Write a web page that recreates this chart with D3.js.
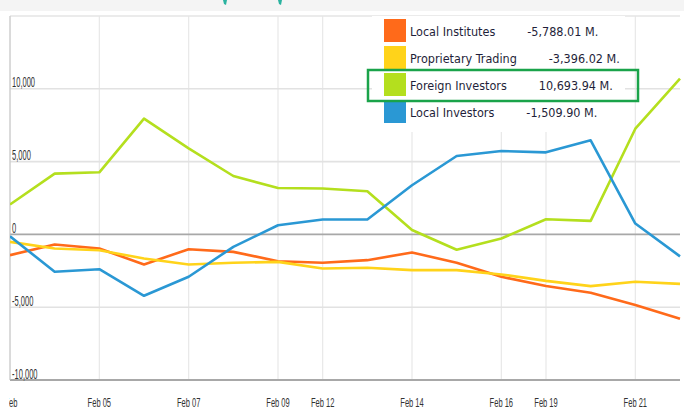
<!DOCTYPE html>
<html>
<head>
<meta charset="utf-8">
<script src="https://cdn.jsdelivr.net/npm/d3@7"></script>
<style>
  body { margin: 0; background: #fff; }
  svg { display: block; }
</style>
</head>
<body>
<div id="chart"></div>
<script>
// trading days shown on the x axis
const dates = ['Feb 01', 'Feb 02', 'Feb 05', 'Feb 06', 'Feb 07', 'Feb 08', 'Feb 09', 'Feb 12',
  'Feb 13', 'Feb 14', 'Feb 15', 'Feb 16', 'Feb 19', 'Feb 20', 'Feb 21', 'Feb 22'];

// cumulative net buy/sell, million
const localInstitutes = [-1425, -695, -970, -2065, -1015, -1200, -1840, -1950,
  -1770, -1240, -1950, -2910, -3550, -4010, -4855, -5788.01];
const proprietaryTrading = [-510, -970, -1085, -1655, -2065, -1950, -1885, -2340,
  -2295, -2455, -2455, -2750, -3190, -3550, -3255, -3396.02];
const foreignInvestors = [2050, 4175, 4265, 7946, 5910, 4011, 3190, 3150,
  2960, 300, -1050, -283, 1040, 926, 7260, 10693.94];
const localInvestors = [-130, -2570, -2390, -4215, -2910, -855, 630, 1020,
  1020, 3375, 5385, 5727, 5636, 6460, 745, -1509.90];

const seriesNames = ['Local Institutes', 'Proprietary Trading', 'Foreign Investors', 'Local Investors'];
const seriesColors = ['#ff6a1a', '#ffd31a', '#b4df1e', '#2a98d4'];
const highlighted = 'Foreign Investors';

const tickDates = ['Feb 01', 'Feb 05', 'Feb 07', 'Feb 09', 'Feb 12', 'Feb 14', 'Feb 16', 'Feb 19', 'Feb 21'];
const tickLabels = ['Feb', 'Feb 05', 'Feb 07', 'Feb 09', 'Feb 12', 'Feb 14', 'Feb 16', 'Feb 19', 'Feb 21'];
const yTicks = [-10000, -5000, 0, 5000, 10000];
const yDomain = [-10000, 15000];

const W = 684;
const H = 417;
const plot = { left: 10, right: 680, top: 16, bottom: 380 };

// plain hyphen for negatives, like the original
const fmtInt = (v) => d3.format(',')(v).replace('\u2212', '-');
const fmtVal = (v) => `${d3.format(',.2f')(v).replace('\u2212', '-')} M.`;

const svg = d3.select('#chart').append('svg')
  .attr('width', W)
  .attr('height', H);

// header strip (cut off)
svg.append('rect')
  .attr('x', 0).attr('y', 0)
  .attr('width', W).attr('height', 11)
  .attr('fill', '#f4f4f4');
svg.append('path')
  .attr('d', 'M223,0 L227,0 L226,5 L224,4 Z M278,0 L282,0 L281,5 L279,4 Z')
  .attr('fill', '#2bb3a0');

const x = d3.scalePoint()
  .domain(dates)
  .range([plot.left, plot.right]);

const y = d3.scaleLinear()
  .domain(yDomain)
  .range([plot.bottom, plot.top]);

// vertical grid
svg.append('g')
  .selectAll('line')
  .data(tickDates)
  .join('line')
  .attr('x1', (d) => x(d)).attr('x2', (d) => x(d))
  .attr('y1', plot.top).attr('y2', plot.bottom)
  .attr('stroke', '#e8e8e8')
  .attr('stroke-width', 1.2);

// top border
svg.append('line')
  .attr('x1', plot.left).attr('x2', plot.right)
  .attr('y1', plot.top).attr('y2', plot.top)
  .attr('stroke', '#e4e4e4')
  .attr('stroke-width', 1.5);

// horizontal grid
svg.append('g')
  .selectAll('line')
  .data(yTicks)
  .join('line')
  .attr('x1', plot.left).attr('x2', plot.right)
  .attr('y1', (d) => y(d)).attr('y2', (d) => y(d))
  .attr('stroke', (d) => (d === 0 || d === yDomain[0] ? '#a8a8a8' : '#e2e2e2'))
  .attr('stroke-width', (d) => (d === yDomain[0] ? 2 : 1.6));

// left border
svg.append('line')
  .attr('x1', plot.left).attr('x2', plot.left)
  .attr('y1', plot.top).attr('y2', plot.bottom)
  .attr('stroke', '#c4c4c4')
  .attr('stroke-width', 1);

// y labels, sitting on the grid lines inside the plot
svg.append('g')
  .selectAll('text')
  .data(yTicks)
  .join('text')
  .attr('transform', (d) => `translate(${plot.left + 2},${y(d) - 1.5}) scale(0.52,1)`)
  .attr('font-family', 'Liberation Sans, Arial, sans-serif')
  .attr('font-size', 14.5)
  .attr('fill', '#333')
  .text(fmtInt);

// x labels
svg.append('clipPath').attr('id', 'xlab-clip')
  .append('rect')
  .attr('x', plot.left - 1).attr('y', plot.bottom)
  .attr('width', W).attr('height', H - plot.bottom);

svg.append('g')
  .attr('clip-path', 'url(#xlab-clip)')
  .selectAll('text')
  .data(tickDates)
  .join('text')
  .attr('transform', (d, i) => `translate(${i === 0 ? x(d) + 7.5 : x(d)},${plot.bottom + 27}) scale(0.58,1)`)
  .attr('text-anchor', (d, i) => (i === 0 ? 'end' : 'middle'))
  .attr('font-family', 'Liberation Sans, Arial, sans-serif')
  .attr('font-size', 13)
  .attr('fill', '#333')
  .text((d, i) => tickLabels[i]);

// lines
const seriesValues = [localInstitutes, proprietaryTrading, foreignInvestors, localInvestors];

svg.append('clipPath').attr('id', 'plot-clip')
  .append('rect')
  .attr('x', plot.left).attr('y', plot.top)
  .attr('width', plot.right - plot.left + 2).attr('height', plot.bottom - plot.top);

const line = d3.line()
  .x((d, i) => x(dates[i]))
  .y((d) => y(d));

svg.append('g')
  .attr('clip-path', 'url(#plot-clip)')
  .selectAll('path')
  .data(seriesValues)
  .join('path')
  .attr('fill', 'none')
  .attr('stroke', (d, i) => seriesColors[i])
  .attr('stroke-width', 2.6)
  .attr('stroke-linejoin', 'round')
  .attr('d', line);

// legend
const legend = svg.append('g');
legend.append('rect')
  .attr('x', 372).attr('y', plot.top)
  .attr('width', 253).attr('height', 116)
  .attr('fill', '#fff');

const rowH = 27;
const item = legend.selectAll('g.item')
  .data(seriesNames)
  .join('g')
  .attr('class', 'item')
  .attr('transform', (d, i) => `translate(384,${19 + i * rowH})`);

item.append('rect')
  .attr('width', 22).attr('height', 23)
  .attr('fill', (d, i) => seriesColors[i]);

item.append('text')
  .attr('class', 'name')
  .attr('x', 26).attr('y', 17)
  .attr('font-family', 'DejaVu Sans Condensed, DejaVu Sans, sans-serif')
  .attr('font-stretch', 'condensed')
  .attr('font-size', 12.5)
  .attr('fill', '#1f1f3a')
  .text((d) => d);

item.each(function (d, i) {
  const g = d3.select(this);
  const w = g.select('text.name').node().getComputedTextLength();
  const vals = seriesValues[i];
  g.append('text')
    .attr('x', 26 + w + 32).attr('y', 17)
    .attr('font-family', 'DejaVu Sans Condensed, DejaVu Sans, sans-serif')
    .attr('font-stretch', 'condensed')
    .attr('font-size', 12.5)
    .attr('fill', '#1f1f3a')
    .text(fmtVal(vals[vals.length - 1]));
});

// highlight box round the foreign investors row
const hi = seriesNames.indexOf(highlighted);
legend.append('rect')
  .attr('x', 368).attr('y', 19 + hi * rowH - 3)
  .attr('width', 270).attr('height', 31)
  .attr('fill', 'none')
  .attr('stroke', '#1aa34a')
  .attr('stroke-width', 2.5);
</script>
</body>
</html>
